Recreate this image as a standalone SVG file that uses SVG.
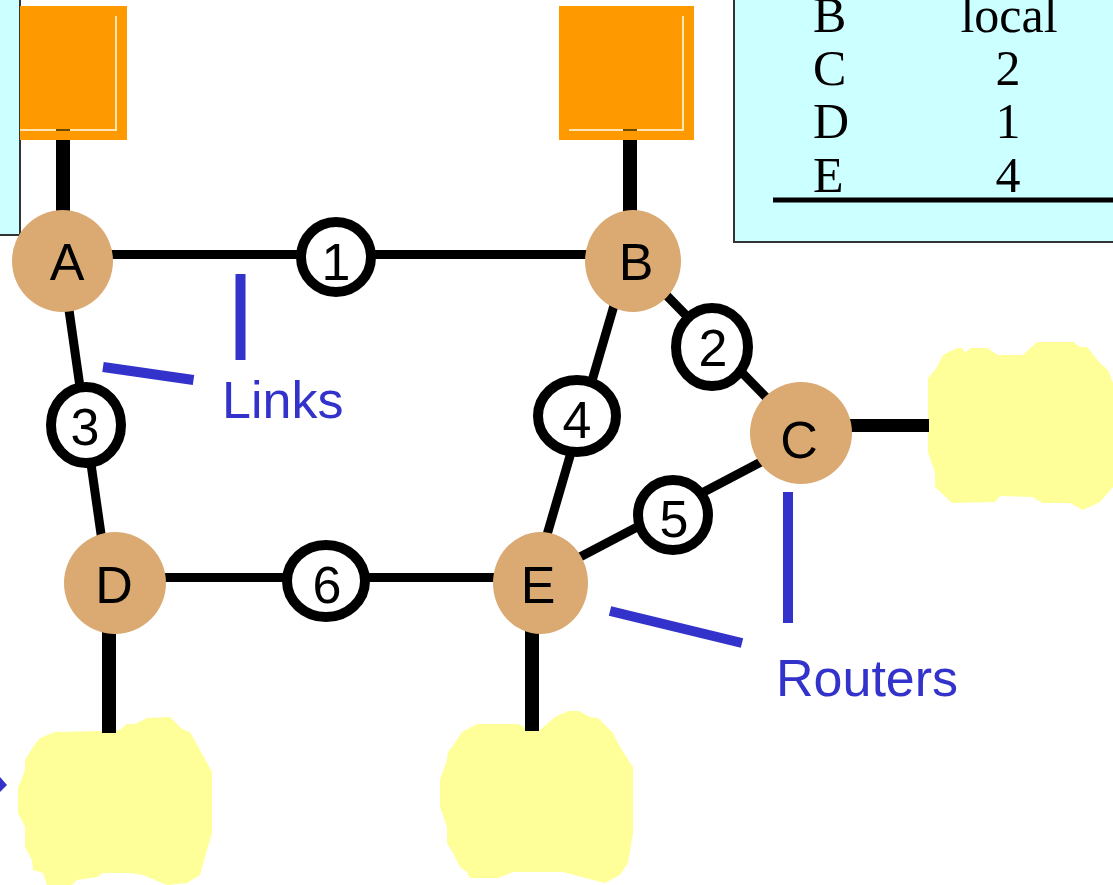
<svg xmlns="http://www.w3.org/2000/svg" width="1113" height="885" viewBox="0 0 1113 885">
<style>
.router{fill:#DAAA72}
.link{fill:#FFFFFF;stroke:#000000;stroke-width:10}
.wire{stroke:#000000;stroke-width:9;fill:none}
.feed{stroke:#000000;stroke-width:14;fill:none}
.lbl{font-family:"Liberation Sans",Arial,sans-serif;font-size:52px;fill:#000000;text-anchor:middle}
.note{font-family:"Liberation Sans",Arial,sans-serif;font-size:52px;fill:#3333CC}
.pointer{stroke:#3333CC;stroke-width:10;fill:none}
.tbl{font-family:"Liberation Serif","Times New Roman",serif;font-size:50px;fill:#000000}
.host{fill:#FF9900}
.hostedge{stroke:#FFE6B3;stroke-width:2;fill:none}
.cloud{fill:#FFFF99}
.panel{fill:#CCFFFF;stroke:#333333;stroke-width:2}
</style>

<!-- background panels -->
<g id="panel-left">
<rect class="panel" x="-5" y="-5" width="25" height="240"/>
</g>
<g id="routing-table">
<rect class="panel" x="734" y="-5" width="390" height="247"/>
<text class="tbl" x="813" y="32">B</text>
<text class="tbl" x="1009" y="32" text-anchor="middle">local</text>
<text class="tbl" x="813" y="85">C</text>
<text class="tbl" x="1008" y="85" text-anchor="middle">2</text>
<text class="tbl" x="813" y="138">D</text>
<text class="tbl" x="1008" y="138" text-anchor="middle">1</text>
<text class="tbl" x="813" y="192">E</text>
<text class="tbl" x="1008" y="192" text-anchor="middle">4</text>
<line x1="773" y1="200" x2="1113" y2="200" stroke="#000000" stroke-width="5"/>
</g>

<!-- hosts -->
<g id="host-A">
<rect class="host" x="20" y="6" width="107" height="134"/>
<polyline class="hostedge" points="20,130 116,130 116,16"/>
<line x1="56" y1="130" x2="70" y2="130" stroke="#6B4A00" stroke-width="2"/>
</g>
<g id="host-B">
<rect class="host" x="559" y="6" width="135" height="134"/>
<polyline class="hostedge" points="569,130 683,130 683,16"/>
<line x1="623" y1="130" x2="637" y2="130" stroke="#6B4A00" stroke-width="2"/>
</g>

<!-- clouds -->
<g id="cloud-D">
<polygon class="cloud" points="55,732 102,731 120,730 127,724 135,724 147,718 170,717 182,729 190,732 212,772 212,833 205,857 200,875 187,883 167,885 143,875 130,873 103,873 97,877 77,880 72,885 47,885 43,873 33,870 32,860 25,847 25,827 18,813 18,788 25,770 25,760 33,747 40,738"/>
</g>
<g id="cloud-E">
<polygon class="cloud" points="477,724 518,724 530,730 540,730 555,717 568,711 579,711 590,717 598,718 613,733 620,747 633,767 633,833 628,863 620,875 605,883 593,880 563,872 513,872 498,878 470,878 467,872 460,867 453,853 447,843 447,827 440,807 440,780 447,760 448,752 455,743 462,732"/>
</g>
<g id="cloud-C">
<polygon class="cloud" points="943,355 957,348 962,348 965,353 970,348 987,348 998,355 1023,355 1037,342 1073,342 1080,347 1087,347 1100,363 1108,370 1113,383 1113,487 1100,502 1083,510 1070,503 1043,503 1032,497 1000,496 995,502 952,503 935,487 935,473 928,452 928,378 935,370 942,357"/>
</g>

<!-- connectors -->
<g id="connectors">
<line class="feed" x1="63" y1="140" x2="63" y2="215"/>
<line class="feed" x1="630" y1="140" x2="630" y2="215"/>
<line class="feed" x1="109" y1="600" x2="109" y2="733"/>
<line class="feed" x1="532" y1="600" x2="532" y2="731"/>
<line x1="820" y1="425.5" x2="929" y2="425.5" stroke="#000000" stroke-width="13"/>
<line class="wire" x1="62" y1="254.5" x2="633" y2="254.5"/>
<line class="wire" x1="62" y1="261" x2="108" y2="583"/>
<line class="wire" x1="627" y1="261" x2="537" y2="569"/>
<line class="wire" x1="633" y1="261" x2="801" y2="433"/>
<line class="wire" x1="540" y1="578" x2="801" y2="441"/>
<line class="wire" x1="115" y1="577.5" x2="540" y2="577.5"/>
</g>

<!-- links -->
<g id="link-1"><circle class="link" cx="336" cy="257" r="35"/><text class="lbl" x="336" y="280">1</text></g>
<g id="link-2"><ellipse class="link" cx="712" cy="347" rx="36" ry="39"/><text class="lbl" x="713" y="366">2</text></g>
<g id="link-3"><ellipse class="link" cx="86" cy="425" rx="35" ry="38"/><text class="lbl" x="85" y="445">3</text></g>
<g id="link-4"><ellipse class="link" cx="577" cy="416" rx="39" ry="36"/><text class="lbl" x="577" y="438">4</text></g>
<g id="link-5"><circle class="link" cx="673" cy="515" r="35"/><text class="lbl" x="674" y="537">5</text></g>
<g id="link-6"><ellipse class="link" cx="326" cy="581" rx="39" ry="36"/><text class="lbl" x="327" y="603">6</text></g>

<!-- routers -->
<g id="router-A"><ellipse class="router" cx="62.5" cy="261" rx="50.5" ry="51"/><text class="lbl" x="67" y="280">A</text></g>
<g id="router-B"><ellipse class="router" cx="633" cy="261" rx="48" ry="51"/><text class="lbl" x="636" y="280">B</text></g>
<g id="router-C"><ellipse class="router" cx="801" cy="433" rx="51" ry="51"/><text class="lbl" x="799" y="458">C</text></g>
<g id="router-D"><ellipse class="router" cx="115" cy="583" rx="51" ry="51"/><text class="lbl" x="114" y="603">D</text></g>
<g id="router-E"><ellipse class="router" cx="540.5" cy="583" rx="47.5" ry="51"/><text class="lbl" x="538" y="603">E</text></g>

<!-- annotations -->
<g id="label-links">
<line class="pointer" x1="240.5" y1="274" x2="240.5" y2="360"/>
<line class="pointer" x1="103" y1="367" x2="193.5" y2="380"/>
<text class="note" x="222" y="418">Links</text>
</g>
<g id="label-routers">
<line class="pointer" x1="788" y1="492" x2="788" y2="623"/>
<line class="pointer" x1="610" y1="611" x2="742" y2="643"/>
<text class="note" x="776" y="696">Routers</text>
</g>
<g id="stray-arrow">
<polygon points="0,777 7,785 0,792" fill="#3333CC"/>
</g>
</svg>
